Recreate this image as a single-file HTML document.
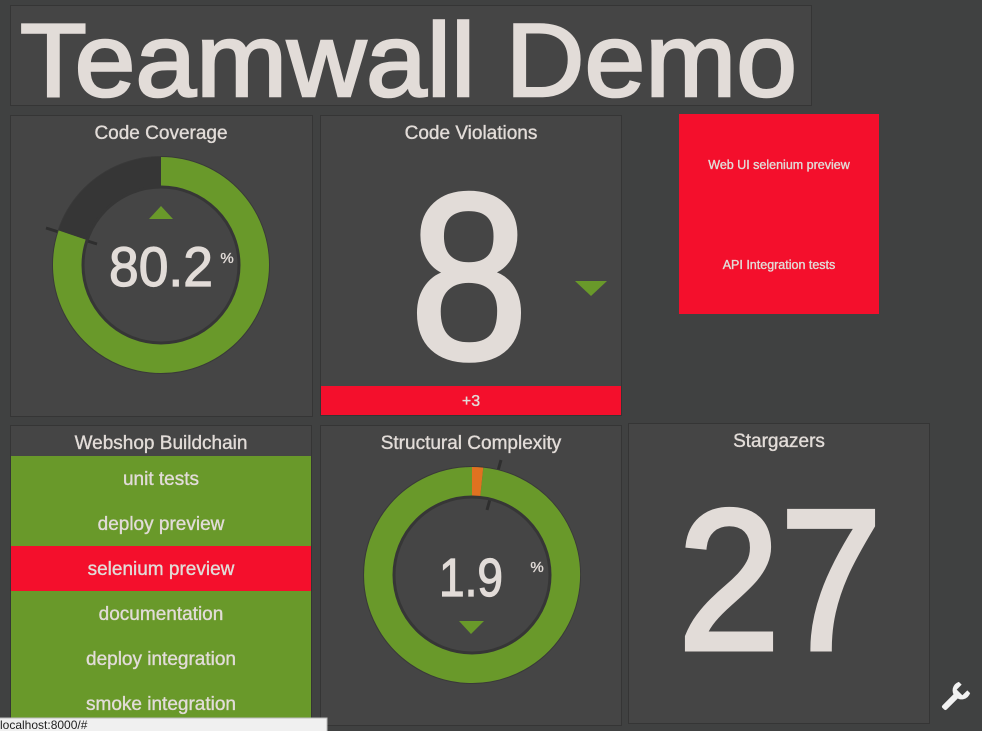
<!DOCTYPE html>
<html><head><meta charset="utf-8"><style>
html,body{margin:0;padding:0;background:#404141;width:982px;height:731px;overflow:hidden}
svg{display:block}
text{font-family:"Liberation Sans",sans-serif;fill:#e2dcd8;stroke:#e2dcd8;stroke-width:0.35}
</style></head><body>
<svg width="982" height="731" viewBox="0 0 982 731" xmlns="http://www.w3.org/2000/svg">
<rect width="982" height="731" fill="#404141"/>
<!-- title -->
<rect x="10.5" y="5.5" width="801" height="100" fill="#454545" stroke="#353535"/>
<text x="20" y="96" font-size="104" textLength="777" lengthAdjust="spacingAndGlyphs" style="stroke-width:2.5">Teamwall Demo</text>

<!-- code coverage -->
<rect x="10.5" y="115.5" width="302" height="301" fill="#454545" stroke="#353535"/>
<text x="161" y="139" font-size="19" text-anchor="middle">Code Coverage</text>
<line x1="46" y1="228" x2="97" y2="244" stroke="#2e2e2e" stroke-width="3"/>
<circle cx="161" cy="265" r="108" fill="none" stroke="#393939" stroke-width="2"/>
<path d="M161 172 A93 93 0 1 1 72.9 235.2" fill="none" stroke="#69992a" stroke-width="30"/>
<path d="M72.9 235.2 A93 93 0 0 1 161 172" fill="none" stroke="#363636" stroke-width="30"/>
<circle cx="161" cy="265" r="78" fill="none" stroke="#363636" stroke-width="3"/>
<polygon points="161,206 149,219 173,219" fill="#69992a"/>
<text x="161" y="286" font-size="56" text-anchor="middle" textLength="104" lengthAdjust="spacingAndGlyphs" style="stroke-width:1.2">80.2</text>
<text x="227" y="263" font-size="15" text-anchor="middle">%</text>

<!-- code violations -->
<rect x="320.5" y="115.5" width="301" height="300" fill="#454545" stroke="#353535"/>
<text x="471" y="139" font-size="19" text-anchor="middle">Code Violations</text>
<text x="469" y="358" font-size="236" text-anchor="middle" textLength="118" lengthAdjust="spacingAndGlyphs" style="stroke-width:5">8</text>
<polygon points="575,281 607,281 591,296" fill="#69992a"/>
<rect x="321" y="386" width="300" height="29" fill="#f40f2c"/>
<text x="471" y="406" font-size="16" text-anchor="middle">+3</text>

<!-- red tile -->
<rect x="679" y="114" width="200" height="200" fill="#f40f2c"/>
<text x="779" y="169" font-size="12.5" text-anchor="middle">Web UI selenium preview</text>
<text x="779" y="269" font-size="12.5" text-anchor="middle">API Integration tests</text>

<!-- webshop -->
<rect x="10.5" y="425.5" width="301" height="310" fill="#454545" stroke="#353535"/>
<text x="161" y="449" font-size="19" text-anchor="middle">Webshop Buildchain</text>
<rect x="11" y="456" width="300" height="275" fill="#69992a"/>
<rect x="11" y="546" width="300" height="45" fill="#f40f2c"/>
<g font-size="19" text-anchor="middle">
<text x="161" y="485">unit tests</text>
<text x="161" y="530">deploy preview</text>
<text x="161" y="575">selenium preview</text>
<text x="161" y="620">documentation</text>
<text x="161" y="665">deploy integration</text>
<text x="161" y="710">smoke integration</text>
</g>

<!-- structural -->
<rect x="320.5" y="425.5" width="301" height="300" fill="#454545" stroke="#353535"/>
<text x="471" y="449" font-size="19" text-anchor="middle">Structural Complexity</text>
<line x1="501" y1="460" x2="487" y2="510" stroke="#2e2e2e" stroke-width="3"/>
<circle cx="472" cy="575" r="108" fill="none" stroke="#393939" stroke-width="2"/>
<path d="M481.7 482.5 A93 93 0 1 1 472 482" fill="none" stroke="#69992a" stroke-width="30"/>
<path d="M472 482 A93 93 0 0 1 481.7 482.5" fill="none" stroke="#e07220" stroke-width="30"/>
<circle cx="472" cy="575" r="78" fill="none" stroke="#363636" stroke-width="3"/>
<text x="471" y="596" font-size="54" text-anchor="middle" textLength="64" lengthAdjust="spacingAndGlyphs" style="stroke-width:1.2">1.9</text>
<text x="537" y="572" font-size="15" text-anchor="middle">%</text>
<polygon points="459,621 484,621 471,634" fill="#69992a"/>

<!-- stargazers -->
<rect x="628.5" y="423.5" width="301" height="300" fill="#454545" stroke="#353535"/>
<text x="779" y="447" font-size="19" text-anchor="middle">Stargazers</text>
<text x="780" y="649" font-size="200" text-anchor="middle" textLength="204" lengthAdjust="spacingAndGlyphs" style="stroke-width:5">27</text>

<!-- wrench -->
<g transform="translate(956,696) rotate(45)" fill="#f2f2f2">
<rect x="-3" y="-2" width="6" height="20" rx="2"/>
<path d="M-8 -12 A9 9 0 1 0 8 -12 L4 -12 L4 -5 L-4 -5 L-4 -12 Z"/>
</g>

<!-- status bar -->
<rect x="-1" y="718" width="328" height="14" fill="#f0f0f0" stroke="#bdbdbd"/>
<text x="0" y="729" font-size="12" style="fill:#222;stroke:none">localhost:8000/#</text>
</svg>
</body></html>
